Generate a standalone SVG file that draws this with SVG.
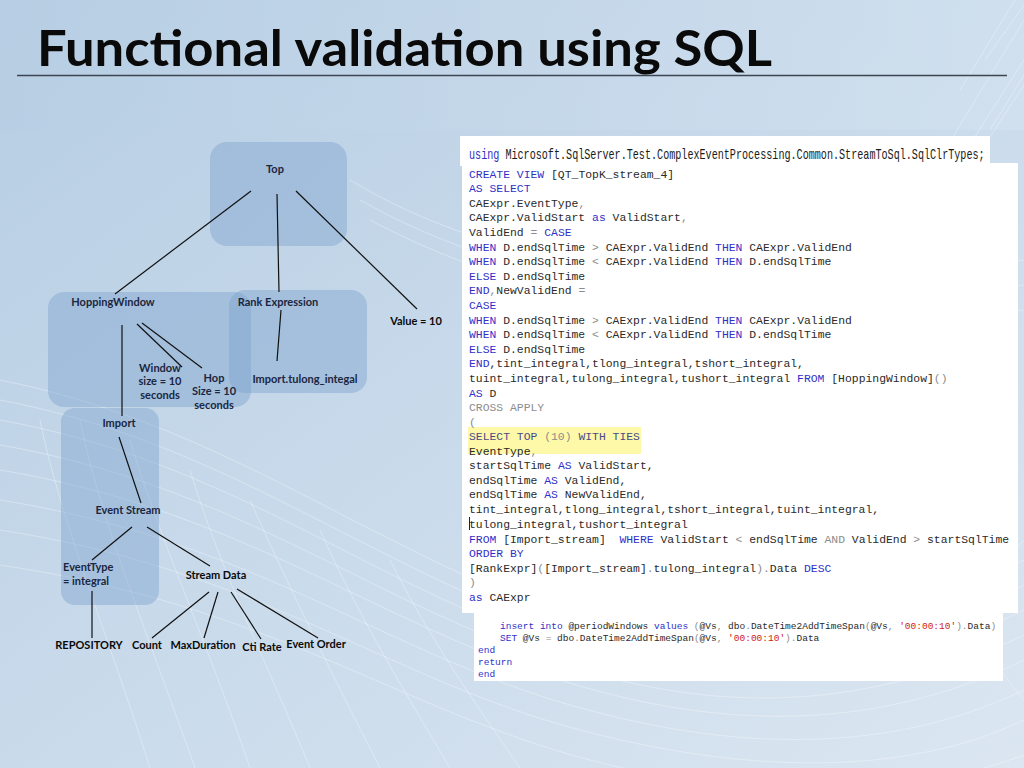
<svg xmlns="http://www.w3.org/2000/svg" width="1024" height="768" viewBox="0 0 1024 768">
<defs>
<linearGradient id="bg" x1="0" y1="0" x2="1" y2="1">
<stop offset="0" stop-color="#b6cde3"/>
<stop offset="0.45" stop-color="#c7d9ea"/>
<stop offset="1" stop-color="#dbe6f1"/>
</linearGradient>
<linearGradient id="bgTop" x1="0" y1="0" x2="1" y2="0">
<stop offset="0" stop-color="#b7cee4" stop-opacity="0.6"/>
<stop offset="1" stop-color="#d4e3f0" stop-opacity="0.6"/>
</linearGradient>
<style>
.mesh{fill:none;stroke:#ffffff;stroke-width:1;stroke-opacity:0.32}
.box{fill:#7fa4cf;fill-opacity:0.45}
.lbl{font-family:Lato,"Open Sans",sans-serif;font-weight:bold;font-size:11px;fill:#1b2640;text-anchor:middle}
.lblL{font-family:Lato,"Open Sans",sans-serif;font-weight:bold;font-size:11px;fill:#1b2640}
.dark{fill:#0a0a0a}
.edge{stroke:#111;stroke-width:1.2;fill:none}
.panel{fill:#ffffff}
.code{font-family:"Liberation Mono","Courier New",monospace;font-size:11.4px;fill:#2a2a2a;white-space:pre}
.code2{font-family:"Liberation Mono","Courier New",monospace;font-size:9.5px;fill:#2a2a2a;white-space:pre}
.use{font-family:"Liberation Mono","Courier New",monospace;font-size:14px;fill:#1a1a1a}
.k{fill:#3030c8}
.g{fill:#8c8c8c}
.s{fill:#d02020}
.sel{fill:#4a4a8a}
</style>
</defs>

<!-- background -->
<rect x="0" y="0" width="1024" height="768" fill="url(#bg)"/>
<rect x="0" y="0" width="1024" height="130" fill="url(#bgTop)"/>
<g id="mesh">
<path class="mesh" d="M0,380 C200,420 330,520 520,600 S860,640 1024,560"/>
<path class="mesh" d="M0,400 C210,440 340,545 530,620 S870,660 1024,585"/>
<path class="mesh" d="M0,420 C220,460 350,570 540,640 S880,680 1024,610"/>
<path class="mesh" d="M0,445 C230,485 360,595 550,660 S890,700 1024,635"/>
<path class="mesh" d="M0,470 C240,510 370,620 560,680 S900,720 1024,660"/>
<path class="mesh" d="M0,500 C250,540 380,650 570,705 S910,745 1024,690"/>
<path class="mesh" d="M0,530 C260,570 390,680 580,730 S920,770 1024,720"/>
<path class="mesh" d="M0,565 C270,605 400,710 590,760 S930,790 1024,755"/>
<path class="mesh" d="M350,180 C500,270 700,300 1024,260"/>
<path class="mesh" d="M360,200 C520,290 720,320 1024,285"/>
<path class="mesh" d="M370,220 C540,310 740,340 1024,310"/>
<path class="mesh" d="M40,420 C60,520 110,640 150,768"/>
<path class="mesh" d="M80,420 C100,520 150,640 195,768"/>
<path class="mesh" d="M130,440 C160,540 210,650 250,768"/>
<path class="mesh" d="M190,470 C220,570 270,670 310,768"/>
<path class="mesh" d="M250,500 C290,590 340,690 380,768"/>
<path class="mesh" d="M320,530 C360,620 410,700 450,768"/>
<path class="mesh" d="M390,560 C430,640 480,710 520,768"/>
<path class="mesh" d="M960,160 L1024,60"/>
<path class="mesh" d="M975,160 L1024,85"/>
<path class="mesh" d="M990,130 L1024,75"/>
<path class="mesh" d="M945,150 L1024,20"/>
<path class="mesh" d="M960,90 L1015,0"/>
<path class="mesh" d="M985,60 L1024,5"/>
<path class="mesh" d="M1024,700 C980,650 960,600 1024,540"/>
</g>

<!-- title -->
<g id="title">
<text x="37" y="66" font-family="Lato,'Open Sans',sans-serif" font-weight="bold" font-size="49" fill="#0a0a0a" textLength="735" lengthAdjust="spacingAndGlyphs">Functional validation using SQL</text>
<line x1="17" y1="75.5" x2="1007" y2="75.5" stroke="#3d4650" stroke-width="1.5"/>
</g>

<!-- tree nodes -->
<g id="node-top">
<rect class="box" x="210" y="142" width="137" height="104" rx="17"/>
<text class="lbl" x="275" y="173">Top</text>
</g>
<g id="node-hoppingwindow">
<rect class="box" x="48" y="292" width="203" height="115" rx="16"/>
<text class="lbl" x="113" y="306">HoppingWindow</text>
</g>
<g id="node-rank">
<rect class="box" x="229" y="290" width="138" height="103" rx="16"/>
<text class="lbl" x="278" y="306">Rank Expression</text>
</g>
<g id="node-value">
<text class="lbl dark" x="416" y="325">Value = 10</text>
</g>
<g id="node-window">
<text class="lbl" x="160" y="372">Window</text>
<text class="lbl" x="160" y="385">size = 10</text>
<text class="lbl" x="160" y="399">seconds</text>
</g>
<g id="node-hop">
<text class="lbl" x="214" y="382">Hop</text>
<text class="lbl" x="214" y="395">Size = 10</text>
<text class="lbl" x="214" y="409">seconds</text>
</g>
<g id="node-tulong">
<text class="lbl" x="305" y="383">Import.tulong_integal</text>
</g>
<g id="node-import">
<rect class="box" x="61" y="408" width="98" height="197" rx="14"/>
<text class="lbl" x="119" y="427">Import</text>
</g>
<g id="node-eventstream">
<text class="lbl" x="128" y="514">Event Stream</text>
</g>
<g id="node-eventtype">
<text class="lblL" x="63" y="571">EventType</text>
<text class="lblL" x="63" y="585">= integral</text>
</g>
<g id="node-streamdata">
<text class="lbl dark" x="216" y="579">Stream Data</text>
</g>
<g id="node-repository">
<text class="lbl dark" x="89" y="649">REPOSITORY</text>
</g>
<g id="node-count">
<text class="lbl dark" x="147" y="649">Count</text>
</g>
<g id="node-maxduration">
<text class="lbl dark" x="203" y="649">MaxDuration</text>
</g>
<g id="node-ctirate">
<text class="lbl dark" x="262" y="651">Cti Rate</text>
</g>
<g id="node-eventorder">
<text class="lbl dark" x="316" y="648">Event Order</text>
</g>

<!-- connectors -->
<g id="connectors">
<line class="edge" x1="251" y1="191" x2="115" y2="294"/>
<line class="edge" x1="277" y1="194" x2="279" y2="292"/>
<line class="edge" x1="296" y1="191" x2="417" y2="309"/>
<line class="edge" x1="122" y1="325" x2="122" y2="416"/>
<line class="edge" x1="137" y1="324" x2="182" y2="367"/>
<line class="edge" x1="142" y1="323" x2="202" y2="368"/>
<line class="edge" x1="281" y1="310" x2="277" y2="361"/>
<line class="edge" x1="119" y1="437" x2="141" y2="503"/>
<line class="edge" x1="132" y1="527" x2="92" y2="560"/>
<line class="edge" x1="147" y1="527" x2="210" y2="566"/>
<line class="edge" x1="92" y1="591" x2="92" y2="638"/>
<line class="edge" x1="209" y1="592" x2="152" y2="638"/>
<line class="edge" x1="218" y1="592" x2="204" y2="638"/>
<line class="edge" x1="231" y1="592" x2="261" y2="639"/>
<line class="edge" x1="237" y1="589" x2="318" y2="638"/>
</g>

<!-- code panels -->
<g id="code-panel">
<rect class="panel" x="460" y="136" width="530" height="30"/>
<rect class="panel" x="462" y="163" width="556" height="450"/>
<text class="use" xml:space="preserve" transform="translate(469,159) scale(0.7227,1)" x="0" y="0"><tspan class="k">using</tspan> Microsoft.SqlServer.Test.ComplexEventProcessing.Common.StreamToSql.SqlClrTypes;</text>
<rect x="468" y="427" width="173" height="27" fill="#fdf9a8"/>
<text class="code" xml:space="preserve" x="469" y="178"><tspan class="k">CREATE VIEW</tspan> [QT_TopK_stream_4]</text>
<text class="code" xml:space="preserve" x="469" y="192"><tspan class="k">AS SELECT</tspan></text>
<text class="code" xml:space="preserve" x="469" y="207">CAExpr.EventType<tspan class="g">,</tspan></text>
<text class="code" xml:space="preserve" x="469" y="221">CAExpr.ValidStart <tspan class="k">as</tspan> ValidStart<tspan class="g">,</tspan></text>
<text class="code" xml:space="preserve" x="469" y="236">ValidEnd <tspan class="g">=</tspan> <tspan class="k">CASE</tspan></text>
<text class="code" xml:space="preserve" x="469" y="251"><tspan class="k">WHEN</tspan> D.endSqlTime <tspan class="g">&gt;</tspan> CAExpr.ValidEnd <tspan class="k">THEN</tspan> CAExpr.ValidEnd</text>
<text class="code" xml:space="preserve" x="469" y="265"><tspan class="k">WHEN</tspan> D.endSqlTime <tspan class="g">&lt;</tspan> CAExpr.ValidEnd <tspan class="k">THEN</tspan> D.endSqlTime</text>
<text class="code" xml:space="preserve" x="469" y="280"><tspan class="k">ELSE</tspan> D.endSqlTime</text>
<text class="code" xml:space="preserve" x="469" y="294"><tspan class="k">END</tspan><tspan class="g">,</tspan>NewValidEnd <tspan class="g">=</tspan></text>
<text class="code" xml:space="preserve" x="469" y="309"><tspan class="k">CASE</tspan></text>
<text class="code" xml:space="preserve" x="469" y="324"><tspan class="k">WHEN</tspan> D.endSqlTime <tspan class="g">&gt;</tspan> CAExpr.ValidEnd <tspan class="k">THEN</tspan> CAExpr.ValidEnd</text>
<text class="code" xml:space="preserve" x="469" y="338"><tspan class="k">WHEN</tspan> D.endSqlTime <tspan class="g">&lt;</tspan> CAExpr.ValidEnd <tspan class="k">THEN</tspan> D.endSqlTime</text>
<text class="code" xml:space="preserve" x="469" y="353"><tspan class="k">ELSE</tspan> D.endSqlTime</text>
<text class="code" xml:space="preserve" x="469" y="367"><tspan class="k">END</tspan>,tint_integral,tlong_integral,tshort_integral,</text>
<text class="code" xml:space="preserve" x="469" y="382">tuint_integral,tulong_integral,tushort_integral <tspan class="k">FROM</tspan> [HoppingWindow]<tspan class="g">()</tspan></text>
<text class="code" xml:space="preserve" x="469" y="397"><tspan class="k">AS</tspan> D</text>
<text class="code g" xml:space="preserve" x="469" y="411">CROSS APPLY</text>
<text class="code g" xml:space="preserve" x="469" y="426">(</text>
<text class="code" xml:space="preserve" x="469" y="440"><tspan class="sel">SELECT TOP</tspan> <tspan class="g">(10)</tspan> <tspan class="sel">WITH TIES</tspan></text>
<text class="code" xml:space="preserve" x="469" y="455">EventType<tspan class="g">,</tspan></text>
<text class="code" xml:space="preserve" x="469" y="469">startSqlTime <tspan class="k">AS</tspan> ValidStart,</text>
<text class="code" xml:space="preserve" x="469" y="484">endSqlTime <tspan class="k">AS</tspan> ValidEnd,</text>
<text class="code" xml:space="preserve" x="469" y="498">endSqlTime <tspan class="k">AS</tspan> NewValidEnd,</text>
<text class="code" xml:space="preserve" x="469" y="513">tint_integral,tlong_integral,tshort_integral,tuint_integral,</text>
<line x1="469.5" y1="517" x2="469.5" y2="530" stroke="#222" stroke-width="1"/>
<text class="code" xml:space="preserve" x="469" y="528">tulong_integral,tushort_integral</text>
<text class="code" xml:space="preserve" x="469" y="543"><tspan class="k">FROM</tspan> [Import_stream]  <tspan class="k">WHERE</tspan> ValidStart <tspan class="g">&lt;</tspan> endSqlTime <tspan class="g">AND</tspan> ValidEnd <tspan class="g">&gt;</tspan> startSqlTime</text>
<text class="code" xml:space="preserve" x="469" y="557"><tspan class="k">ORDER BY</tspan></text>
<text class="code" xml:space="preserve" x="469" y="572">[RankExpr]<tspan class="g">(</tspan>[Import_stream]<tspan class="g">.</tspan>tulong_integral<tspan class="g">).</tspan>Data <tspan class="k">DESC</tspan></text>
<text class="code g" xml:space="preserve" x="469" y="586">)</text>
<text class="code" xml:space="preserve" x="469" y="601"><tspan class="k">as</tspan> CAExpr</text>
<rect class="panel" x="474" y="613" width="529" height="68"/>
<text class="code2" xml:space="preserve" x="500" y="629"><tspan class="k">insert into</tspan> @periodWindows <tspan class="k">values</tspan> <tspan class="g">(</tspan>@Vs<tspan class="g">,</tspan> dbo<tspan class="g">.</tspan>DateTime2AddTimeSpan<tspan class="g">(</tspan>@Vs<tspan class="g">,</tspan> <tspan class="s">'00:00:10'</tspan><tspan class="g">).</tspan>Data<tspan class="g">)</tspan></text>
<text class="code2" xml:space="preserve" x="500" y="641"><tspan class="k">SET</tspan> @Vs <tspan class="g">=</tspan> dbo<tspan class="g">.</tspan>DateTime2AddTimeSpan<tspan class="g">(</tspan>@Vs<tspan class="g">,</tspan> <tspan class="s">'00:00:10'</tspan><tspan class="g">).</tspan>Data</text>
<text class="code2 k" xml:space="preserve" x="478" y="653">end</text>
<text class="code2 k" xml:space="preserve" x="478" y="665">return</text>
<text class="code2 k" xml:space="preserve" x="478" y="677">end</text>
</g>
</svg>
